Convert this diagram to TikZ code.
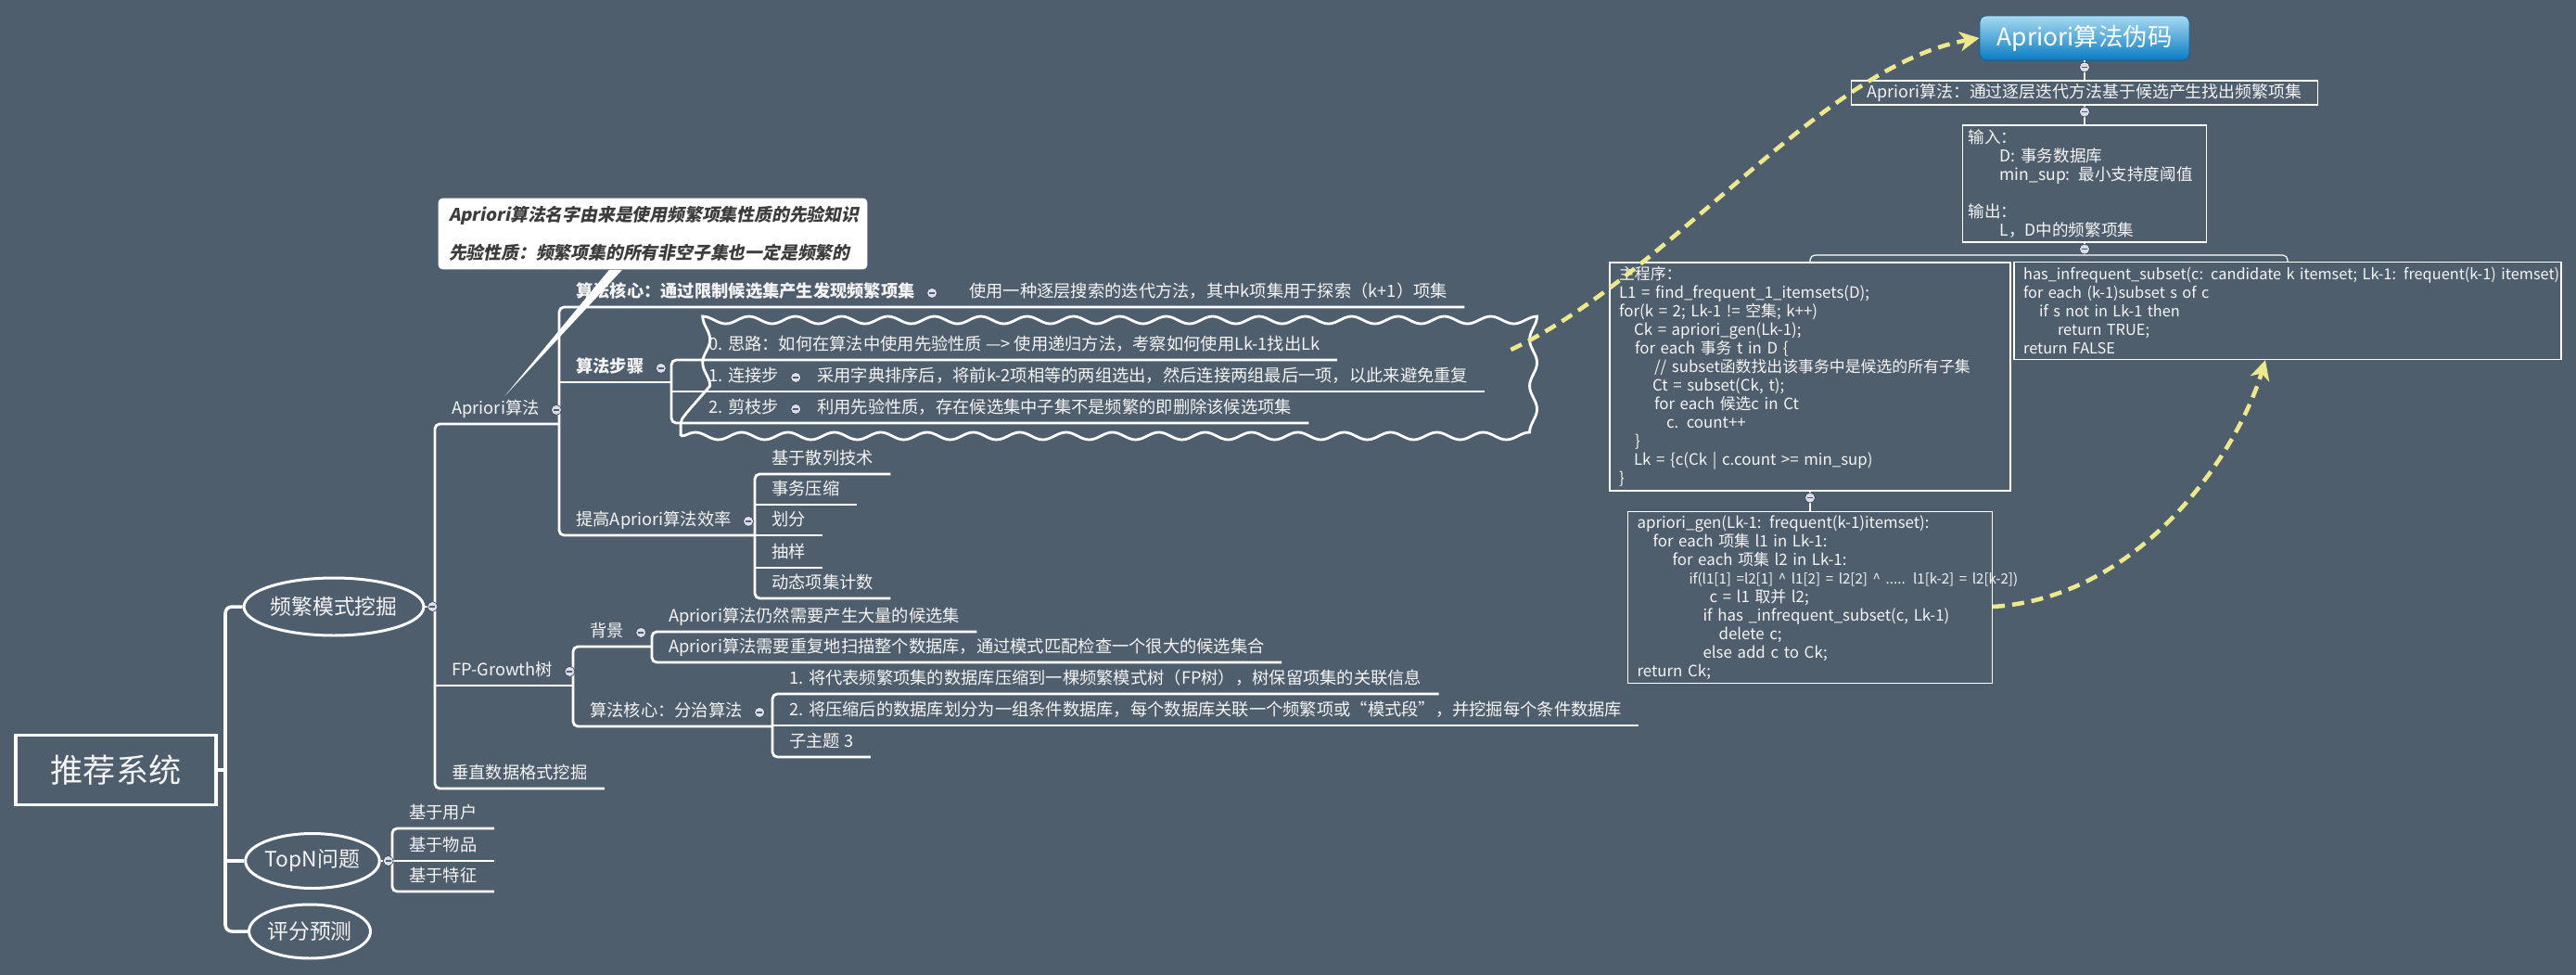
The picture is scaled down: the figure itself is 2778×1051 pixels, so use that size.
\documentclass[tikz,border=0pt]{standalone}
\usepackage{fontspec}
\setmainfont{Noto Sans CJK SC}
\newfontfamily\calloutfont[FakeSlant=0.2]{Noto Sans CJK SC}
\usetikzlibrary{
    arrows.meta,
    shapes.geometric,
    decorations.pathmorphing,
    calc
}
\definecolor{bgc}{HTML}{4F5E6C}
\definecolor{txt}{HTML}{F4F4F4}
\definecolor{foldc}{HTML}{D8DCEB}
\definecolor{hintc}{HTML}{EDE98B}
\definecolor{titletop}{HTML}{A6DAF0}
\definecolor{titlebot}{HTML}{0A7BC2}
\definecolor{notetxt}{HTML}{3C3C3C}
\tikzset{%
    >={Stealth[length=0.42cm, width=0.42cm, inset=0.12cm]},
    % Specifications for style of nodes:
    trunk/.style = {draw=white, line width=2pt, rounded corners=4pt},
    branch/.style = {draw=white, line width=1.6pt, rounded corners=3pt},
    link/.style = {draw=white, line width=0.7pt},
    rootbox/.style = {
        rectangle, draw=white, line width=2pt, text=txt,
        minimum width=4.32cm, minimum height=1.5cm,
        font=\fontsize{20}{24}\selectfont
    },
    mainnode/.style = {
        ellipse, draw=white, line width=1.7pt, text=txt, inner sep=0pt,
        font=\fontsize{13}{15}\selectfont
    },
    topic/.style = {
        anchor=south west, inner xsep=0.36cm, inner ysep=0.12cm,
        text height=0.27cm, text depth=0.08cm, text=txt,
        font=\fontsize{10.4}{12}\selectfont
    },
    keytopic/.style = {topic, font=\fontsize{10.4}{12}\selectfont\bfseries},
    fold/.style = {
        circle, fill=foldc, draw=bgc!60!black, line width=0.3pt,
        minimum size=0.22cm, inner sep=0pt,
        path picture={\draw[line width=0.7pt, bgc]
            ([xshift=-0.06cm]path picture bounding box.center) --
            ([xshift=0.06cm]path picture bounding box.center);}
    },
    wavy/.style = {
        draw=white, line width=1.6pt, decorate,
        decoration={snake, amplitude=0.08cm, segment length=1cm}
    },
    note/.style = {
        rectangle, rounded corners=0.1cm, fill=white, text=notetxt,
        align=left, text width=8.8cm, inner xsep=0.23cm,
        minimum height=1.54cm,
        font=\calloutfont\fontsize{10.7}{23.3}\selectfont\bfseries
    },
    titlebox/.style = {
        rounded corners=0.14cm, top color=titletop, bottom color=titlebot,
        draw=titlebot!80!black, line width=0.5pt, text=white,
        minimum width=4.52cm, minimum height=0.96cm,
        font=\fontsize{15}{18}\selectfont
    },
    codebox/.style = {
        rectangle, draw=white, line width=0.7pt, text=txt, align=left,
        inner xsep=0.2cm, inner ysep=0.05cm,
        font=\fontsize{9.6}{11.4}\selectfont
    },
    hint/.style = {draw=hintc, line width=2.6pt, dash pattern=on 0.26cm off 0.16cm, ->}
}

\begin{document}
\begin{tikzpicture}[x=0.02cm, y=-0.02cm]
\useasboundingbox (0,0) rectangle (2778,1051);
\fill[bgc] (0,0) rectangle (2778,1051);

% root and first level
\node[rootbox] (root) at (125,830) {推荐系统};
\node[mainnode, minimum width=3.68cm, minimum height=1.24cm] (fpm) at (360,654) {频繁模式挖掘};
\node[mainnode, minimum width=2.76cm, minimum height=1.18cm] (topn) at (337,928) {TopN问题};
\node[mainnode, minimum width=2.62cm, minimum height=1.16cm] (pred) at (334,1004) {评分预测};
\coordinate (rj) at (243,830);
\draw[trunk] (root.east) -- (rj);
\draw[trunk] (fpm.west) -| (rj) |- (pred.west);
\draw[trunk] (topn.west) -- (topn.west -| rj);

% TopN
\node[topic] (t1) at (423,893) {基于用户};
\node[topic] (t2) at (423,928) {基于物品};
\node[topic] (t3) at (423,961) {基于特征};

% frequent patterns
\node[topic] (apr) at (469,457) {Apriori算法};
\node[topic] (fpg) at (469,739) {FP-Growth树};
\node[topic] (vert) at (469,850) {垂直数据格式挖掘};

\node[keytopic] (core) at (603,331) {算法核心：通过限制候选集产生发现频繁项集};
\node[topic] (coredesc) at (1027,331) {使用一种逐层搜索的迭代方法，其中k项集用于探索（k+1）项集};
\node[keytopic] (steps) at (603,412) {算法步骤};
\node[topic] (eff) at (603,577) {提高Apriori算法效率};

\node[wavy, minimum width=17.88cm, minimum height=2.56cm] (grp) at (1181,406) {};
\coordinate (sb) at (724,412);
\node[topic] (s0) at (746,388) {0. 思路：如何在算法中使用先验性质 —> 使用递归方法，考察如何使用Lk-1找出Lk};
\node[topic] (s1) at (746,422) {1. 连接步};
\node[topic] (s1d) at (863,422) {采用字典排序后，将前k-2项相等的两组选出，然后连接两组最后一项，以此来避免重复};
\node[topic] (s2) at (746,456) {2. 剪枝步};
\node[topic] (s2d) at (863,456) {利用先验性质，存在候选集中子集不是频繁的即删除该候选项集};

\node[topic] (e1) at (814,511) {基于散列技术};
\node[topic] (e2) at (814,544) {事务压缩};
\node[topic] (e3) at (814,577) {划分};
\node[topic] (e4) at (814,612) {抽样};
\node[topic] (e5) at (814,645) {动态项集计数};

\node[topic] (bg) at (618,697) {背景};
\node[topic] (fcore) at (618,783) {算法核心：分治算法};
\node[topic] (bg1) at (703,681) {Apriori算法仍然需要产生大量的候选集};
\node[topic] (bg2) at (703,714) {Apriori算法需要重复地扫描整个数据库，通过模式匹配检查一个很大的候选集合};
\node[topic] (f1) at (833,748) {1. 将代表频繁项集的数据库压缩到一棵频繁模式树（FP树），树保留项集的关联信息};
\node[topic] (f2) at (833,782) {2. 将压缩后的数据库划分为一组条件数据库，每个数据库关联一个频繁项或“模式段”，并挖掘每个条件数据库};
\node[topic] (f3) at (833,816) {子主题 3};

% branches
\draw[branch] (topn.east) -- (topn.east -| t2.south west);
\draw[branch] (t1.south east) -- (t1.south west) -- (t3.south west) -- (t3.south east);
\draw[branch] (t2.south west) -- (t2.south east);

\draw[branch] (fpm.east) -- (fpm.east -| apr.south west);
\draw[branch] (core.south west |- apr.south) -- (apr.south west) -- (vert.south west) -- (vert.south east);
\draw[branch] (fpg.south west) -- (bg.south west |- fpg.south);

\draw[branch] (coredesc.south east) -- (core.south west) -- (eff.south west) -- (e1.south west |- eff.south);
\draw[branch] (steps.south west) -- (steps.south -| sb);
\draw[branch] (s0.south east) -- (s0.south west -| sb) -- (s2.south west -| sb) -- (s2d.south east);
\draw[branch] (s1.south west -| sb) -- (s1d.south east);

\draw[branch] (e1.south east) -- (e1.south west) -- (e5.south west) -- (e5.south east);
\foreach \n in {e2,e3,e4}
    \draw[branch] (\n.south west) -- (\n.south east);

\draw[branch] (bg1.south west |- bg.south) -- (bg.south west) -- (fcore.south west) -- (f1.south west |- fcore.south);
\draw[branch] (bg1.south east) -- (bg1.south west) -- (bg2.south west) -- (bg2.south east);
\draw[branch] (f1.south east) -- (f1.south west) -- (f3.south west) -- (f3.south east);
\draw[branch] (f2.south west) -- (f2.south east);

% fold marks
\node[fold] (fpm-f) at ([xshift=0.16cm]fpm.east) {};
\node[fold] (topn-f) at ([xshift=0.16cm]topn.east) {};
\foreach \n in {apr,core,steps,s1,s2,eff,fpg,bg,fcore}
    \node[fold] (\n-f) at (\n.east) {};

% callout
\node[note] (note) at (704,252) {Apriori算法名字由来是使用频繁项集性质的先验知识\\先验性质：频繁项集的所有非空子集也一定是频繁的};
\fill[white] ([xshift=-0.94cm]note.south) -- ([xshift=-0.66cm]note.south) -- ([xshift=0.2cm]apr.north) -- cycle;

% pseudo code
\node[titlebox] (title) at (2248,41) {Apriori算法伪码};
\node[codebox, minimum width=10.06cm, minimum height=0.52cm, align=center, font=\fontsize{10.2}{12}\selectfont] (summary) at (2248,100) {Apriori算法：通过逐层迭代方法基于候选产生找出频繁项集};
\node[codebox, text width=5.02cm, inner xsep=0.12cm, minimum height=2.52cm, font=\fontsize{10}{11.4}\selectfont] (io) at (2248,198) {输入：\\
\hspace*{0.68cm}D: 事务数据库\\
\hspace*{0.68cm}\mbox{min\_sup: 最小支持度阈值}\\[0.4cm]
输出：\\
\hspace*{0.68cm}L，D中的频繁项集};
\node[codebox, text width=8.24cm, minimum height=4.92cm] (main) at (1952,406) {主程序：\\
L1 = find\_frequent\_1\_itemsets(D);\\
for(k = 2; Lk-1 != 空集; k++)\\
\hspace*{0.32cm}Ck = apriori\_gen(Lk-1);\\
\hspace*{0.34cm}for each 事务 t in D \{\\
\hspace*{0.76cm}// subset函数找出该事务中是候选的所有子集\\
\hspace*{0.72cm}Ct = subset(Ck, t);\\
\hspace*{0.76cm}for each 候选c in Ct\\
\hspace*{1.02cm}c. count++\\
\hspace*{0.34cm}\}\\
\hspace*{0.32cm}Lk = \{c(Ck | c.count >= min\_sup)\\
\}};
\node[codebox, text width=11.4cm, minimum height=2.1cm, font=\fontsize{9.3}{11.4}\selectfont] (hasinf) at (2467,335) {\mbox{has\_infrequent\_subset(c: candidate k itemset; Lk-1: frequent(k-1) itemset)}\\
for each (k-1)subset s of c\\
\hspace*{0.34cm}if s not in Lk-1 then\\
\hspace*{0.74cm}return TRUE;\\
return FALSE};
\node[codebox, text width=7.46cm, minimum height=3.7cm] (gen) at (1952,644) {apriori\_gen(Lk-1: frequent(k-1)itemset):\\
\hspace*{0.34cm}for each 项集 l1 in Lk-1:\\
\hspace*{0.76cm}for each 项集 l2 in Lk-1:\\
\hspace*{1.12cm}\mbox{\fontsize{8.6}{11.4}\selectfont if(l1[1] =l2[1] \textasciicircum\ l1[2] = l2[2] \textasciicircum\ ..... l1[k-2] = l2[k-2])}\\
\hspace*{1.56cm}c = l1 取并 l2;\\
\hspace*{1.42cm}if has \_infrequent\_subset(c, Lk-1)\\
\hspace*{1.76cm}delete c;\\
\hspace*{1.42cm}else add c to Ck;\\
return Ck;};

\coordinate (split) at (2248,275);
\draw[link] (title.south) -- (summary.north);
\draw[link] (summary.south) -- (io.north);
\draw[link] (io.south) -- (split);
\draw[link, rounded corners=3pt] (main.north) |- (split) -| (hasinf.north);
\draw[link] (main.south) -- (gen.north);
\node[fold] (title-f) at ([yshift=-0.14cm]title.south) {};
\node[fold] (summary-f) at ([yshift=-0.14cm]summary.south) {};
\node[fold] (io-f) at ([yshift=-0.14cm]io.south) {};
\node[fold] (main-f) at ([yshift=-0.14cm]main.south) {};

% relations
\draw[hint] ([yshift=0.58cm]grp.east) .. controls +(170,-80) and +(-170,30) .. (title.west);
\draw[hint] ([yshift=-0.2cm]gen.east) .. controls +(160,-10) and +(-30,100) .. ([xshift=-0.48cm]hasinf.south);
\end{tikzpicture}
\end{document}
